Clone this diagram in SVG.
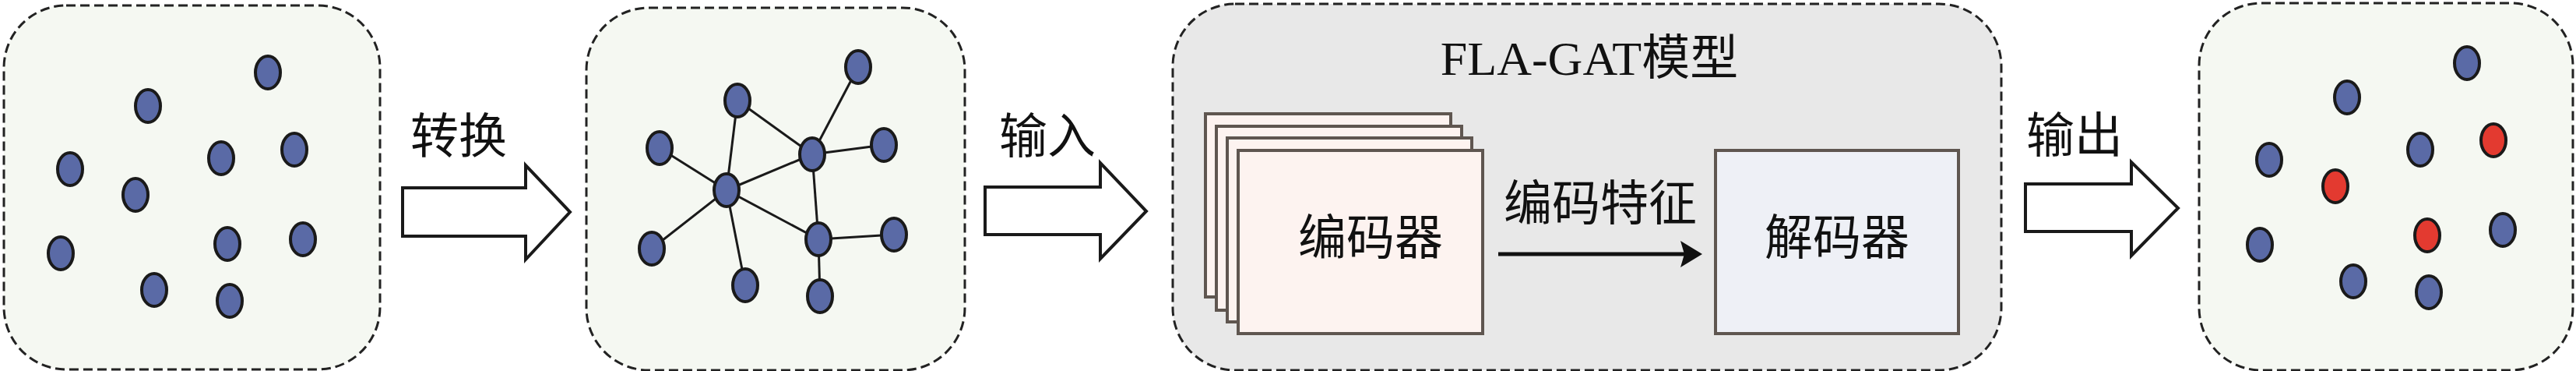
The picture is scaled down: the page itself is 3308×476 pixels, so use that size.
<svg xmlns="http://www.w3.org/2000/svg" width="3308" height="476" viewBox="0 0 3308 476">
<style>
.panel{fill:#f5f8f2;stroke:#222;stroke-width:3;stroke-dasharray:12,6}
.b{fill:#5a6aa6;stroke:#1a1a1a;stroke-width:4}
.r{fill:#e33a30;stroke:#1a1a1a;stroke-width:4}
.bigarrow{fill:#fff;stroke:#1a1a1a;stroke-width:4}
.lbl{font-family:"Liberation Serif","Noto Sans CJK SC",serif;font-size:62px;fill:#111}
.card{fill:#fdf3f0;stroke:#5f5650;stroke-width:4}
.e{stroke:#1a1a1a;stroke-width:3}
</style>
<rect width="3308" height="476" fill="#fff"/>
<g id="panel1">
<rect class="panel" x="5" y="7" width="483" height="467" rx="80"/>
<ellipse class="b" cx="344" cy="93" rx="16" ry="21"/>
<ellipse class="b" cx="190" cy="136" rx="16" ry="21"/>
<ellipse class="b" cx="378" cy="192" rx="16" ry="21"/>
<ellipse class="b" cx="284" cy="203" rx="16" ry="21"/>
<ellipse class="b" cx="90" cy="217" rx="16" ry="21"/>
<ellipse class="b" cx="174" cy="250" rx="16" ry="21"/>
<ellipse class="b" cx="78" cy="325" rx="16" ry="21"/>
<ellipse class="b" cx="292" cy="313" rx="16" ry="21"/>
<ellipse class="b" cx="389" cy="307" rx="16" ry="21"/>
<ellipse class="b" cx="198" cy="372" rx="16" ry="21"/>
<ellipse class="b" cx="295" cy="386" rx="16" ry="21"/>
</g>
<g id="arrow1">
<polygon class="bigarrow" points="517,241 675,241 675,212 732,272 675,333 675,303 517,303"/>
<text class="lbl" x="589" y="197" text-anchor="middle">转换</text>
</g>
<g id="panel2">
<rect class="panel" x="753" y="10" width="486" height="465" rx="80"/>
</g>
<g id="model">
<rect x="1506" y="5" width="1064" height="470" rx="80" fill="#e8e8e8" stroke="#222" stroke-width="3" stroke-dasharray="12,6"/>
<text class="lbl" x="2041" y="96" text-anchor="middle" font-size="60">FLA-GAT模型</text>
</g>
<g id="connectors">
<line class="e" x1="947" y1="129" x2="933" y2="244"/>
<line class="e" x1="947" y1="129" x2="1043" y2="198"/>
<line class="e" x1="1102" y1="86" x2="1043" y2="198"/>
<line class="e" x1="1043" y1="198" x2="1135" y2="186" stroke-width="5"/>
<line class="e" x1="847" y1="190" x2="933" y2="244" stroke-width="4"/>
<line class="e" x1="933" y1="244" x2="1043" y2="198"/>
<line class="e" x1="933" y1="244" x2="837" y2="319"/>
<line class="e" x1="933" y1="244" x2="957" y2="366"/>
<line class="e" x1="933" y1="244" x2="1051" y2="307"/>
<line class="e" x1="1043" y1="198" x2="1051" y2="307"/>
<line class="e" x1="1051" y1="307" x2="1148" y2="301" stroke-width="5"/>
<line class="e" x1="1051" y1="307" x2="1053" y2="380"/>
<line x1="1924" y1="326" x2="2165" y2="326" stroke="#111" stroke-width="5"/>
<polygon points="2186,326 2158,309 2163,326 2158,343" fill="#111"/>
</g>
<g id="graphnodes">
<ellipse class="b" cx="947" cy="129" rx="16" ry="21"/>
<ellipse class="b" cx="1102" cy="86" rx="16" ry="21"/>
<ellipse class="b" cx="847" cy="190" rx="16" ry="21"/>
<ellipse class="b" cx="1043" cy="198" rx="16" ry="21"/>
<ellipse class="b" cx="1135" cy="186" rx="16" ry="21"/>
<ellipse class="b" cx="933" cy="244" rx="16" ry="21"/>
<ellipse class="b" cx="837" cy="319" rx="16" ry="21"/>
<ellipse class="b" cx="957" cy="366" rx="16" ry="21"/>
<ellipse class="b" cx="1051" cy="307" rx="16" ry="21"/>
<ellipse class="b" cx="1148" cy="301" rx="16" ry="21"/>
<ellipse class="b" cx="1053" cy="380" rx="16" ry="21"/>
</g>
<g id="arrow2">
<polygon class="bigarrow" points="1265,240 1413,240 1413,209 1472,271 1413,332 1413,301 1265,301"/>
<text class="lbl" x="1345" y="197" text-anchor="middle">输入</text>
</g>
<g id="encoder">
<rect class="card" x="1548" y="146" width="315" height="235"/>
<rect class="card" x="1562" y="162" width="315" height="236"/>
<rect class="card" x="1576" y="177" width="314" height="236"/>
<rect class="card" x="1590" y="193" width="314" height="235"/>
<text class="lbl" x="1760" y="327" text-anchor="middle" font-size="64">编码器</text>
</g>
<text class="lbl" x="2055" y="283" text-anchor="middle">编码特征</text>
<g id="decoder">
<rect x="2203" y="193" width="312" height="235" fill="#eef0f6" stroke="#5f5650" stroke-width="4"/>
<text class="lbl" x="2359" y="327" text-anchor="middle" font-size="64">解码器</text>
</g>
<g id="arrow3">
<polygon class="bigarrow" points="2601,236 2737,236 2737,208 2797,267 2737,328 2737,297 2601,297"/>
<text class="lbl" x="2664" y="196" text-anchor="middle">输出</text>
</g>
<g id="panel4">
<rect class="panel" x="2824" y="4" width="480" height="471" rx="80"/>
<ellipse class="b" cx="3168" cy="81" rx="16" ry="21"/>
<ellipse class="b" cx="3014" cy="125" rx="16" ry="21"/>
<ellipse class="r" cx="3202" cy="180" rx="16" ry="21"/>
<ellipse class="b" cx="3108" cy="192" rx="16" ry="21"/>
<ellipse class="b" cx="2914" cy="205" rx="16" ry="21"/>
<ellipse class="r" cx="2999" cy="239" rx="16" ry="21"/>
<ellipse class="b" cx="3214" cy="295" rx="16" ry="21"/>
<ellipse class="r" cx="3117" cy="302" rx="16" ry="21"/>
<ellipse class="b" cx="2902" cy="314" rx="16" ry="21"/>
<ellipse class="b" cx="3022" cy="361" rx="16" ry="21"/>
<ellipse class="b" cx="3119" cy="375" rx="16" ry="21"/>
</g>
</svg>
